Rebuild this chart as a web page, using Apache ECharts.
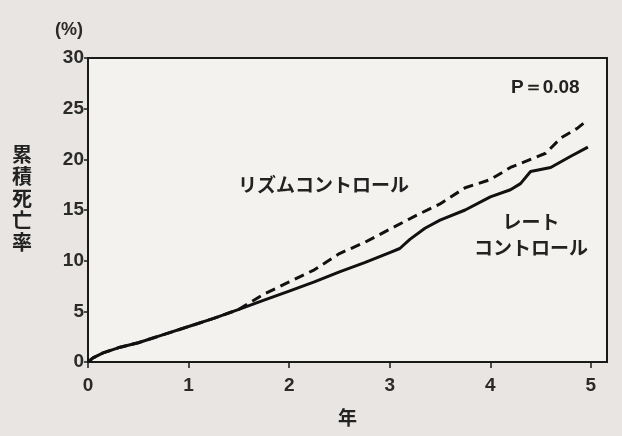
<!DOCTYPE html>
<html><head><meta charset="utf-8">
<script src="https://cdn.jsdelivr.net/npm/echarts@6/dist/echarts.min.js"></script>
<style>html,body{margin:0;padding:0;background:#e9e5e2;}#c{width:622px;height:436px;}</style>
</head><body><div id="c"></div>
<script>
// Years since randomisation
const rateYears   = [0,0.05,0.15,0.3,0.5,0.75,1.0,1.25,1.5,1.75,2.0,2.25,2.5,2.75,3.0,3.1,3.2,3.35,3.5,3.75,4.0,4.2,4.3,4.4,4.6,4.8,4.97];
const rateValues  = [0,0.4,0.9,1.4,1.9,2.7,3.5,4.3,5.2,6.1,7.0,7.9,8.9,9.8,10.8,11.2,12.1,13.2,14.0,15.0,16.3,17.0,17.6,18.8,19.2,20.3,21.2];
const rhythmYears = [0,0.05,0.15,0.3,0.5,0.75,1.0,1.25,1.5,1.6,1.75,2.0,2.25,2.5,2.75,3.0,3.25,3.5,3.75,4.0,4.2,4.4,4.55,4.7,4.87,4.97];
const rhythmValues= [0,0.4,0.9,1.4,1.9,2.7,3.5,4.3,5.2,5.8,6.7,7.9,9.1,10.7,11.8,13.1,14.4,15.6,17.2,18.0,19.2,20.0,20.6,22.1,23.1,23.9];
const xTicks = [0,1,2,3,4,5];
const yTicks = [0,5,10,15,20,25,30];
const yName = '累積死亡率';
const xName = '年';
const rhythmLabel = 'リズムコントロール';
const rateLabel = 'レート\nコントロール';
const pLabel = 'P＝0.08';

const pairs = (xs, ys) => xs.map((x, i) => [x, ys[i]]);
const chart = echarts.init(document.getElementById('c'));
const font = '"Liberation Sans Narrow", "Liberation Sans", Arial, sans-serif';
const jfont = '"Noto Sans CJK JP", sans-serif';
chart.setOption({
  backgroundColor: '#e9e5e2',
  animation: false,
  grid: {left: 88, top: 58, right: 15, bottom: 74, show: true, backgroundColor: '#f4f2ef', borderColor: '#1a1a1a', borderWidth: 2},
  xAxis: {
    type: 'value', min: 0, max: 5.16, interval: 1,
    axisLine: {show: true, lineStyle: {color: '#1a1a1a', width: 2}},
    axisTick: {show: true, length: 6, lineStyle: {color: '#1a1a1a', width: 1.5}, customValues: xTicks},
    axisLabel: {customValues: xTicks, margin: 14, fontSize: 19, fontWeight: 'bold', color: '#2a2a2a', fontFamily: font},
    splitLine: {show: false},
    name: xName, nameLocation: 'middle', nameGap: 46,
    nameTextStyle: {fontSize: 19, fontWeight: 'bold', color: '#222', fontFamily: jfont}
  },
  yAxis: {
    type: 'value', min: 0, max: 30, interval: 5,
    axisLine: {show: true, lineStyle: {color: '#1a1a1a', width: 2}},
    axisTick: {show: true, length: 4, lineStyle: {color: '#1a1a1a', width: 1.5}},
    axisLabel: {margin: 4, fontSize: 19, fontWeight: 'bold', color: '#2a2a2a', fontFamily: font},
    splitLine: {show: false}
  },
  graphic: [
    {type: 'text', left: 55, top: 21, style: {text: '(%)', fontSize: 18, fontWeight: 'bold', fill: '#2a2a2a', fontFamily: font}},
    {type: 'text', left: 12, top: 143, style: {text: yName.split('').join('\n'), fontSize: 20, lineHeight: 22, fontWeight: 'bold', fill: '#222', fontFamily: jfont}},
    {type: 'text', left: 238, top: 175, style: {text: rhythmLabel, fontSize: 19, fontWeight: 'bold', fill: '#222', fontFamily: jfont}},
    {type: 'text', left: 474, top: 209, style: {text: rateLabel, fontSize: 19, lineHeight: 26, fontWeight: 'bold', fill: '#222', fontFamily: jfont, textAlign: 'center'}},
    {type: 'text', left: 511, top: 78, style: {text: pLabel, fontSize: 19, fontWeight: 'bold', fill: '#222', fontFamily: font}}
  ],
  series: [
    {type: 'line', data: pairs(rateYears, rateValues), showSymbol: false, lineStyle: {color: '#111', width: 3}},
    {type: 'line', data: pairs(rhythmYears, rhythmValues), showSymbol: false, lineStyle: {color: '#111', width: 3, type: [10, 6]}}
  ]
});
</script></body></html>
